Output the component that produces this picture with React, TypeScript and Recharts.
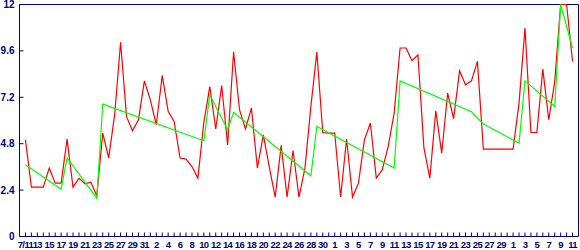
import React from "react";
import { LineChart, Line, XAxis, YAxis, ReferenceLine } from "recharts";

const NAVY = "#000080";

// one label every second day, Jul 11 .. Oct 11
const dayLabels = [
    "7/11", "13", "15", "17", "19", "21", "23", "25", "27", "29", "31",
    "2", "4", "6", "8", "10", "12", "14", "16", "18", "20", "22", "24", "26", "28", "30",
    "1", "3", "5", "7", "9", "11", "13", "15", "17", "19", "21", "23", "25", "27", "29",
    "1", "3", "5", "7", "9", "11",
];

// daily values (red)
const daily = [
    5.0, 2.55, 2.55, 2.55, 3.54, 2.76, 2.76, 5.04, 2.55, 3.02,
    2.73, 2.81, 2.1, 5.35, 4.06, 6.3, 10.05, 6.2, 5.47, 6.04,
    8.05, 7.07, 5.78, 8.33, 6.47, 5.95, 4.06, 4.0, 3.62, 3.02,
    5.9, 7.75, 5.56, 7.8, 4.74, 9.54, 6.55, 5.56, 6.64, 3.54,
    5.26, 3.6, 2.04, 4.71, 2.04, 4.45, 2.04, 3.54, 6.73, 9.54,
    5.38, 5.35, 5.35, 2.04, 5.04, 2.04, 2.76, 5.0, 5.87, 3.02,
    3.45, 4.66, 6.38, 9.75, 9.75, 9.09, 9.4, 4.6, 3.02, 6.5,
    4.31, 7.42, 6.09, 8.57, 7.85, 8.05, 9.06, 4.52, 4.52, 4.52,
    4.52, 4.52, 4.52, 6.9, 10.78, 5.38, 5.38, 8.66, 6.04, 8.0,
    12, 12, 9.05,
];

// trend (green), only at its break points
const trendDays = [0, 6, 7, 12, 13, 30, 31, 34, 35, 48, 49, 62, 63, 75, 77, 83, 84, 89, 90, 92];
const trendValues = [3.71, 2.45, 4.06, 1.98, 6.85, 4.95, 7.33, 5.52, 6.42, 3.14, 5.69, 3.54, 8.05, 6.45, 5.82, 4.83, 8.05, 6.73, 12, 9.75];

const yTicks = [0, 2.4, 4.8, 7.2, 9.6, 12];

const data = daily.map((v, i) => {
    const k = trendDays.indexOf(i);
    return { i, daily: v, trend: k >= 0 ? trendValues[k] : null };
});

const xTicks = daily.map((_, i) => i);

const labelStyle = {
    fontFamily: "'Liberation Sans', Arial, sans-serif",
    fontWeight: "bold" as const,
    fontSize: 10,
    fill: NAVY,
};

const XTick = (props: any) => {
    const { x, y, payload } = props;
    const i = payload.value;
    return (
        <g>
            <line x1={x} x2={x} y1={y - 4} y2={y} stroke={NAVY} />
            {i % 2 === 0 && (
                <text
                    x={x}
                    y={y + 11.5}
                    textAnchor="middle"
                    style={{ ...labelStyle, fontSize: 9.5, letterSpacing: -0.6 }}
                >
                    {dayLabels[i / 2]}
                </text>
            )}
        </g>
    );
};

const YTick = (props: any) => {
    const { x, y, payload } = props;
    return (
        <g>
            <line x1={x} x2={x + 4} y1={y} y2={y} stroke={NAVY} />
            <text x={x - 5} y={y} textAnchor="end" dominantBaseline="central" style={labelStyle}>
                {payload.value}
            </text>
        </g>
    );
};

const App = () => {
    return (
        <div style={{ position: "absolute", left: 0, top: 0, background: "#fff" }}>
            <LineChart
                width={580}
                height={250}
                data={data}
                margin={{ top: 4.5, right: 1.5, bottom: 0, left: 0 }}
            >
                <XAxis
                    dataKey="i"
                    type="number"
                    domain={[-1, 93]}
                    ticks={xTicks}
                    interval={0}
                    height={13.5}
                    tickLine={false}
                    tickSize={0}
                    tickMargin={0}
                    axisLine={{ stroke: NAVY }}
                    tick={<XTick />}
                />
                <YAxis
                    type="number"
                    domain={[0, 12]}
                    ticks={yTicks}
                    interval={0}
                    width={19.5}
                    tickLine={false}
                    tickSize={0}
                    tickMargin={0}
                    axisLine={{ stroke: NAVY }}
                    tick={<YTick />}
                />
                <ReferenceLine y={12} stroke={NAVY} />
                <ReferenceLine x={93} stroke={NAVY} />
                <Line
                    type="linear"
                    dataKey="daily"
                    stroke="#ff0000"
                    strokeWidth={1.2}
                    dot={false}
                    isAnimationActive={false}
                />
                <Line
                    type="linear"
                    dataKey="trend"
                    stroke="#00ff00"
                    strokeWidth={1.2}
                    dot={false}
                    connectNulls
                    isAnimationActive={false}
                />
            </LineChart>
        </div>
    );
};

export default App;
